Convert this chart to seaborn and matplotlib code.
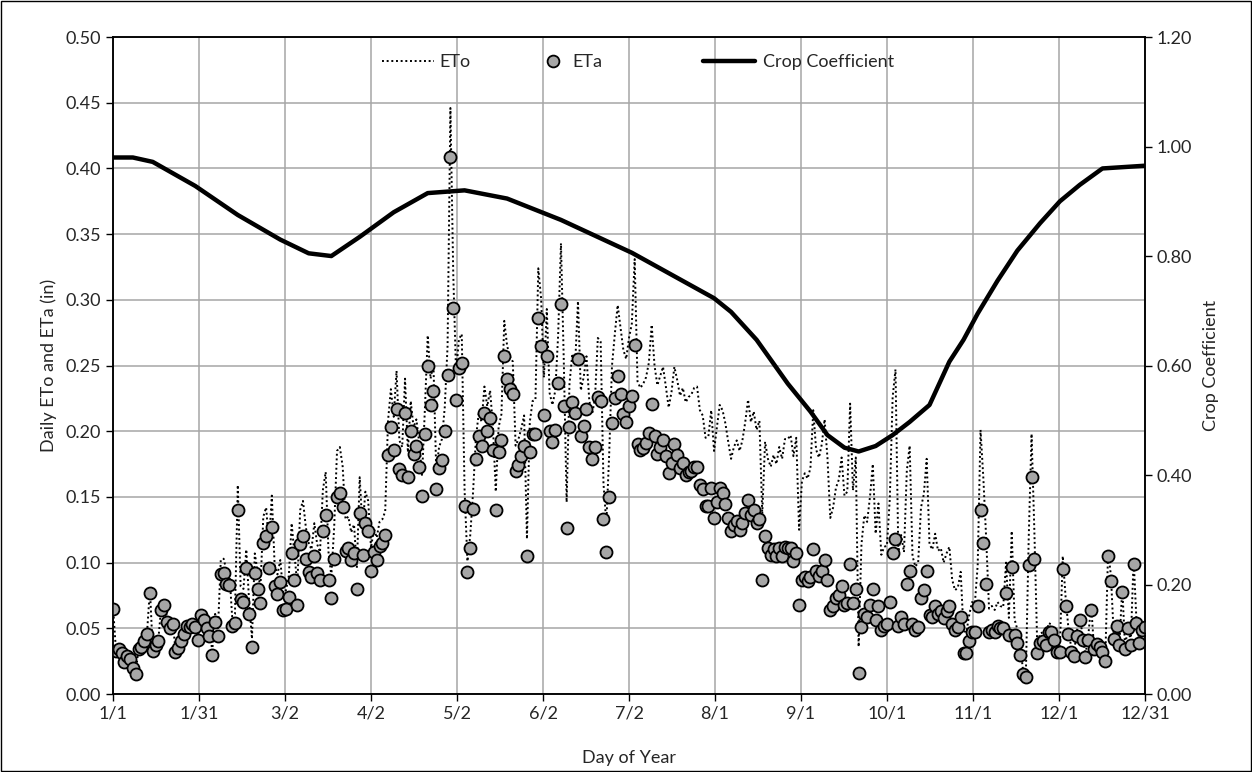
import numpy as np
import matplotlib
matplotlib.use("Agg")
import matplotlib.pyplot as plt
from matplotlib.lines import Line2D
from matplotlib.patches import Rectangle
import seaborn as sns

# Données journalières (jour de l'année 1..365)
eta = [
    0.065, 0.033, 0.034, 0.031, 0.024, 0.029, 0.027, 0.020, 0.015, 0.034,
    0.036, 0.040, 0.046, 0.077, 0.033, 0.037, 0.040, 0.064, 0.068, 0.055,
    0.050, 0.053, 0.032, 0.035, 0.040, 0.046, 0.052, 0.051, 0.053, 0.051,
    0.041, 0.060, 0.056, 0.050, 0.044, 0.030, 0.055, 0.044, 0.091, 0.092,
    0.084, 0.083, 0.052, 0.054, 0.140, 0.072, 0.070, 0.096, 0.061, 0.036,
    0.092, 0.080, 0.069, 0.115, 0.120, 0.096, 0.127, 0.082, 0.076, 0.085,
    0.064, 0.065, 0.074, 0.107, 0.087, 0.068, 0.114, 0.120, 0.103, 0.093,
    0.089, 0.105, 0.092, 0.087, 0.124, 0.136, 0.087, 0.073, 0.103, 0.150,
    0.153, 0.142, 0.109, 0.111, 0.102, 0.107, 0.080, 0.138, 0.106, 0.130,
    0.124, 0.094, 0.108, 0.102, 0.113, 0.115, 0.121, 0.182, 0.203, 0.186,
    0.217, 0.171, 0.167, 0.214, 0.165, 0.200, 0.183, 0.189, 0.173, 0.151,
    0.198, 0.250, 0.220, 0.231, 0.156, 0.172, 0.178, 0.200, 0.243, 0.409,
    0.294, 0.224, 0.248, 0.252, 0.143, 0.093, 0.111, 0.141, 0.179, 0.196,
    0.189, 0.214, 0.200, 0.210, 0.186, 0.140, 0.184, 0.193, 0.257, 0.240,
    0.232, 0.228, 0.170, 0.174, 0.181, 0.189, 0.105, 0.184, 0.198, 0.198,
    0.286, 0.265, 0.212, 0.257, 0.200, 0.192, 0.201, 0.237, 0.297, 0.219,
    0.126, 0.203, 0.222, 0.214, 0.255, 0.196, 0.204, 0.217, 0.188, 0.179,
    0.188, 0.226, 0.223, 0.133, 0.108, 0.150, 0.206, 0.225, 0.242, 0.228,
    0.213, 0.207, 0.219, 0.227, 0.266, 0.190, 0.186, 0.187, 0.191, 0.199,
    0.221, 0.196, 0.183, 0.188, 0.193, 0.181, 0.168, 0.176, 0.190, 0.182,
    0.172, 0.176, 0.167, 0.169, 0.170, 0.173, 0.173, 0.159, 0.156, 0.143,
    0.143, 0.157, 0.134, 0.146, 0.157, 0.153, 0.145, 0.134, 0.124, 0.129,
    0.132, 0.125, 0.130, 0.138, 0.148, 0.136, 0.140, 0.130, 0.133, 0.087,
    0.120, 0.111, 0.106, 0.110, 0.105, 0.111, 0.105, 0.112, 0.111, 0.111,
    0.101, 0.107, 0.068, 0.087, 0.089, 0.086, 0.089, 0.110, 0.094, 0.090,
    0.094, 0.102, 0.087, 0.064, 0.067, 0.073, 0.075, 0.082, 0.068, 0.069,
    0.099, 0.069, 0.080, 0.016, 0.051, 0.061, 0.059, 0.068, 0.080, 0.056,
    0.067, 0.049, 0.052, 0.053, 0.070, 0.107, 0.118, 0.052, 0.059, 0.053,
    0.084, 0.094, 0.053, 0.049, 0.051, 0.073, 0.079, 0.094, 0.060, 0.059,
    0.067, 0.061, 0.063, 0.058, 0.063, 0.067, 0.053, 0.049, 0.051, 0.059,
    0.031, 0.031, 0.040, 0.047, 0.047, 0.067, 0.140, 0.115, 0.084, 0.047,
    0.049, 0.047, 0.052, 0.050, 0.050, 0.077, 0.045, 0.097, 0.045, 0.039,
    0.030, 0.015, 0.013, 0.098, 0.165, 0.103, 0.031, 0.039, 0.040, 0.037,
    0.047, 0.047, 0.041, 0.032, 0.032, 0.095, 0.067, 0.046, 0.032, 0.029,
    0.044, 0.056, 0.041, 0.028, 0.041, 0.064, 0.034, 0.038, 0.036, 0.032,
    0.025, 0.105, 0.086, 0.042, 0.052, 0.037, 0.078, 0.034, 0.050, 0.037,
    0.099, 0.054, 0.039, 0.049, 0.051,
]

eto = [
    0.066, 0.034, 0.035, 0.032, 0.025, 0.030, 0.028, 0.021, 0.016, 0.035,
    0.037, 0.041, 0.047, 0.080, 0.034, 0.038, 0.042, 0.067, 0.071, 0.058,
    0.053, 0.056, 0.034, 0.037, 0.043, 0.049, 0.055, 0.054, 0.057, 0.055,
    0.044, 0.065, 0.061, 0.055, 0.048, 0.033, 0.061, 0.049, 0.102, 0.103,
    0.094, 0.094, 0.059, 0.061, 0.159, 0.082, 0.080, 0.110, 0.070, 0.042,
    0.107, 0.093, 0.081, 0.135, 0.142, 0.114, 0.151, 0.098, 0.091, 0.102,
    0.077, 0.079, 0.090, 0.130, 0.106, 0.083, 0.140, 0.147, 0.127, 0.115,
    0.110, 0.130, 0.114, 0.108, 0.155, 0.169, 0.108, 0.090, 0.127, 0.185,
    0.188, 0.173, 0.133, 0.135, 0.123, 0.129, 0.096, 0.165, 0.126, 0.154,
    0.147, 0.111, 0.126, 0.119, 0.131, 0.133, 0.139, 0.208, 0.232, 0.211,
    0.246, 0.193, 0.188, 0.240, 0.184, 0.223, 0.203, 0.209, 0.191, 0.166,
    0.217, 0.273, 0.240, 0.252, 0.170, 0.188, 0.194, 0.218, 0.265, 0.446,
    0.320, 0.244, 0.270, 0.274, 0.155, 0.101, 0.121, 0.154, 0.195, 0.214,
    0.207, 0.234, 0.219, 0.231, 0.204, 0.154, 0.203, 0.213, 0.284, 0.265,
    0.257, 0.253, 0.189, 0.194, 0.202, 0.212, 0.118, 0.207, 0.223, 0.224,
    0.324, 0.301, 0.241, 0.293, 0.229, 0.220, 0.231, 0.273, 0.343, 0.253,
    0.146, 0.236, 0.259, 0.251, 0.299, 0.231, 0.241, 0.257, 0.223, 0.213,
    0.225, 0.271, 0.268, 0.160, 0.130, 0.182, 0.250, 0.274, 0.296, 0.279,
    0.262, 0.255, 0.271, 0.282, 0.331, 0.238, 0.233, 0.236, 0.241, 0.252,
    0.281, 0.250, 0.235, 0.242, 0.249, 0.234, 0.218, 0.230, 0.249, 0.239,
    0.227, 0.233, 0.222, 0.226, 0.228, 0.233, 0.234, 0.216, 0.212, 0.195,
    0.196, 0.216, 0.185, 0.203, 0.220, 0.216, 0.206, 0.192, 0.179, 0.188,
    0.193, 0.185, 0.193, 0.207, 0.224, 0.207, 0.215, 0.201, 0.208, 0.137,
    0.192, 0.179, 0.173, 0.182, 0.175, 0.188, 0.179, 0.194, 0.194, 0.197,
    0.181, 0.195, 0.125, 0.162, 0.168, 0.164, 0.172, 0.216, 0.186, 0.180,
    0.190, 0.209, 0.180, 0.134, 0.142, 0.157, 0.163, 0.180, 0.151, 0.154,
    0.221, 0.155, 0.180, 0.036, 0.114, 0.136, 0.131, 0.150, 0.175, 0.122,
    0.145, 0.106, 0.112, 0.113, 0.149, 0.226, 0.247, 0.108, 0.121, 0.108,
    0.170, 0.189, 0.105, 0.097, 0.100, 0.142, 0.152, 0.179, 0.114, 0.110,
    0.122, 0.109, 0.111, 0.100, 0.107, 0.112, 0.087, 0.079, 0.081, 0.093,
    0.048, 0.047, 0.060, 0.070, 0.069, 0.098, 0.201, 0.164, 0.118, 0.065,
    0.067, 0.064, 0.070, 0.067, 0.066, 0.100, 0.058, 0.124, 0.057, 0.049,
    0.037, 0.018, 0.016, 0.119, 0.198, 0.123, 0.037, 0.046, 0.047, 0.043,
    0.054, 0.053, 0.046, 0.036, 0.036, 0.105, 0.074, 0.050, 0.035, 0.032,
    0.048, 0.060, 0.044, 0.030, 0.044, 0.068, 0.036, 0.040, 0.038, 0.033,
    0.026, 0.109, 0.090, 0.044, 0.054, 0.039, 0.081, 0.035, 0.052, 0.039,
    0.103, 0.056, 0.041, 0.051, 0.053,
]

days = np.arange(1, len(eta) + 1)

# Coefficient cultural
kc_days = [1, 8, 15, 30, 45, 60, 70, 78, 88, 100, 112, 125, 140, 159, 184,
           213, 219, 228, 239, 247, 253, 259, 264, 270, 276, 282, 289, 296,
           301, 306, 313, 320, 328, 335, 342, 350, 365]
kc = [0.980, 0.980, 0.972, 0.928, 0.875, 0.830, 0.805, 0.800, 0.835, 0.880,
      0.915, 0.920, 0.905, 0.866, 0.806, 0.723, 0.698, 0.647, 0.567, 0.516,
      0.473, 0.450, 0.443, 0.453, 0.473, 0.497, 0.528, 0.607, 0.647, 0.695,
      0.755, 0.810, 0.860, 0.900, 0.930, 0.960, 0.965]

tick_labels = ["1/1", "1/31", "3/2", "4/2", "5/2", "6/2", "7/2", "8/1",
               "9/1", "10/1", "11/1", "12/1", "12/31"]

sns.set_style("white")
plt.rcParams['font.family'] = ['Lato', 'DejaVu Sans']
fs = 13

fig, ax = plt.subplots(figsize=(12.52, 7.72), dpi=100)
fig.subplots_adjust(left=0.0903, right=0.9145, bottom=0.101, top=0.952)

sns.lineplot(x=days, y=eto, ax=ax, color="black", linewidth=1.4, zorder=2)
ax.lines[-1].set_linestyle((0, (1, 1.4)))
sns.scatterplot(x=days, y=eta, ax=ax, color="#a6a6a6", edgecolor="black",
                linewidth=1.3, s=75, zorder=3)

ax.set_xlim(1, 365)
ax.set_ylim(0, 0.5)
ax.set_xticks(np.linspace(1, 365, 13))
ax.set_xticklabels(tick_labels)
ax.set_yticks(np.arange(0, 0.51, 0.05))
ax.set_yticklabels([f"{v:.2f}" for v in np.arange(0, 0.51, 0.05)])
ax.grid(True, color="#a6a6a6", linewidth=1.1)
ax.set_axisbelow(True)
ax.set_xlabel("Day of Year", fontsize=fs, labelpad=20)
ax.set_ylabel("Daily ETo and ETa (in)", fontsize=fs, labelpad=6)
ax.tick_params(axis="both", labelsize=fs, direction="out", length=5,
               width=1, color="black", left=True, bottom=True)

ax2 = ax.twinx()
sns.lineplot(x=kc_days, y=kc, ax=ax2, color="black", linewidth=3.2, zorder=4)
ax2.set_ylim(0, 1.2)
ax2.set_yticks(np.arange(0, 1.21, 0.2))
ax2.set_yticklabels([f"{v:.2f}" for v in np.arange(0, 1.21, 0.2)])
ax2.set_ylabel("Crop Coefficient", fontsize=fs, labelpad=8)
ax2.tick_params(axis="y", labelsize=fs, direction="out", length=5,
                width=1, color="black", right=True)
ax2.grid(False)

for a in (ax, ax2):
    for sp in a.spines.values():
        sp.set_color("black")
        sp.set_linewidth(1.1)

# Légende : trois entrées placées séparément comme dans Excel
leg_kw = dict(frameon=False, fontsize=fs, borderpad=0, borderaxespad=0,
              loc="center left")
h_eto = Line2D([], [], color="black", linewidth=1.4, linestyle=(0, (1, 1.4)))
h_eta = Line2D([], [], color="none", marker="o", markerfacecolor="#a6a6a6",
               markeredgecolor="black", markeredgewidth=1.3, markersize=8.5)
h_kc = Line2D([], [], color="black", linewidth=3.2)
l1 = ax2.legend([h_eto], ["ETo"], bbox_to_anchor=(0.2607, 0.962),
                handlelength=2.9, handletextpad=0.3, **leg_kw)
ax2.add_artist(l1)
l2 = ax2.legend([h_eta], ["ETa"], bbox_to_anchor=(0.4176, 0.962),
                handlelength=1.0, handletextpad=0.55, **leg_kw)
ax2.add_artist(l2)
ax2.legend([h_kc], ["Crop Coefficient"], bbox_to_anchor=(0.5717, 0.962),
           handlelength=2.9, handletextpad=0.4, **leg_kw)

fig.patches.append(Rectangle((0.0008, 0.0013), 0.9984, 0.9974,
                             transform=fig.transFigure, fill=False,
                             edgecolor="black", linewidth=1))

fig.savefig("out.png", dpi=100)
